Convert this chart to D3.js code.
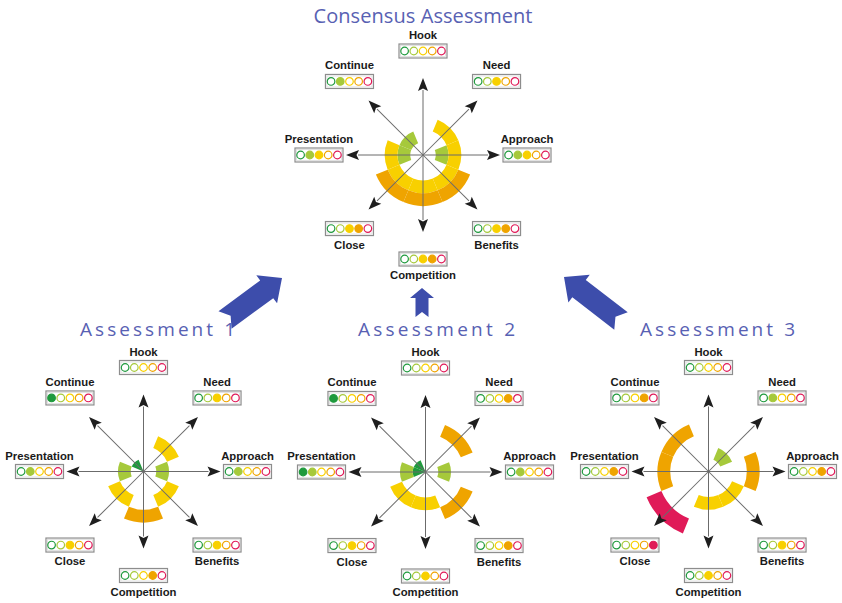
<!DOCTYPE html>
<meta charset="utf-8">
<style>
    body { margin: 0; background: #fff; }
    .axis-line { stroke: #6b6b6b; stroke-width: 1; }
    .axis-head { fill: #1e1e1e; }
    .lbl {
        font-family: "Liberation Sans", Arial, sans-serif;
        font-weight: bold;
        font-size: 11.3px;
        fill: #1a1a1a;
    }
    .title { font-family: "Open Sans", sans-serif; fill: #5861b3; }
</style>
<body>
<div id="chart"></div>
<script src="https://cdn.jsdelivr.net/npm/d3@7"></script>
<script>
    var width = 842,
        height = 603;

    // the eight axes, clockwise from the top
    var axes = ["Hook", "Need", "Approach", "Benefits", "Competition", "Close", "Presentation", "Continue"];
    var levels = [1, 2, 3, 4, 5];
    var levelColors = ["#1f9a3d", "#a6c93b", "#f8d000", "#efa400", "#e01a58"];

    // filled levels per axis (same order as axes)
    var consensusScores = [[], [3], [2, 3], [3, 4], [3, 4], [3, 4], [2, 3], [2]];
    var assessment1Scores = [[], [3], [2], [3], [4], [3], [2], [1]];
    var assessment2Scores = [[], [4], [2], [4], [3], [3], [1, 2], [1]];
    var assessment3Scores = [[], [2], [4], [3], [3], [5], [4], [4]];

    var chartTitles = ["Consensus Assessment", "Assessment 1", "Assessment 2", "Assessment 3"];

    var svg = d3.select("#chart").append("svg")
        .attr("width", width)
        .attr("height", height);

    svg.append("rect").attr("width", width).attr("height", height).attr("fill", "#fff");

    // ring radii, the outer (red) ring is a bit thicker
    var radius = d3.scaleLinear().domain([0, 4, 5]).range([0, 51, 67]);
    var angle = d3.scaleLinear().domain([0, axes.length]).range([0, 2 * Math.PI]);
    var dotX = d3.scalePoint().domain(levels).range([-18.4, 18.4]);
    var color = d3.scaleOrdinal().domain(levels).range(levelColors);

    var armLength = 77,
        headLen = 13,
        headHalf = 5,
        boxDist = 104;

    var arc = d3.arc();

    function drawRadar(cx, cy, scores) {
        var g = svg.append("g").attr("transform", "translate(" + cx + "," + cy + ")");

        // sectors
        var sectors = [];
        scores.forEach(function (list, i) {
            list.forEach(function (s) {
                sectors.push({ axis: i, level: s });
            });
        });
        g.selectAll(".sector")
            .data(sectors)
            .enter().append("path")
            .attr("class", "sector")
            .attr("fill", function (d) { return color(d.level); })
            .attr("d", function (d) {
                return arc({
                    innerRadius: radius(d.level - 1),
                    outerRadius: radius(d.level),
                    startAngle: angle(d.axis) - Math.PI / 8,
                    endAngle: angle(d.axis) + Math.PI / 8
                });
            });

        // axis arrows
        var ax = g.selectAll(".ax")
            .data(axes)
            .enter().append("g")
            .attr("class", "ax")
            .attr("transform", function (d, i) {
                return "rotate(" + (angle(i) * 180 / Math.PI) + ")";
            });
        ax.append("line")
            .attr("class", "axis-line")
            .attr("x1", 0).attr("y1", 0)
            .attr("x2", 0).attr("y2", -(armLength - headLen + 1));
        ax.append("path")
            .attr("class", "axis-head")
            .attr("d", "M0," + (-armLength) + "L" + headHalf + "," + (-armLength + headLen) +
                "L0," + (-armLength + headLen - 2.5) + "L" + (-headHalf) + "," + (-armLength + headLen) + "Z");

        // label boxes
        var lab = g.selectAll(".lab")
            .data(axes)
            .enter().append("g")
            .attr("class", "lab")
            .attr("transform", function (d, i) {
                var a = angle(i);
                return "translate(" + (Math.sin(a) * boxDist) + "," + (-Math.cos(a) * boxDist) + ")";
            });
        lab.append("rect")
            .attr("x", -24).attr("y", -7)
            .attr("width", 48).attr("height", 14)
            .attr("fill", "#fff")
            .attr("stroke", "#8d8d8d")
            .attr("stroke-width", 1.2);
        lab.append("rect")
            .attr("x", -22.5).attr("y", -5.5)
            .attr("width", 45).attr("height", 11)
            .attr("fill", "none")
            .attr("stroke", "#dcdcdc")
            .attr("stroke-width", 0.8);
        lab.each(function (d, i) {
            d3.select(this).selectAll("circle")
                .data(levels)
                .enter().append("circle")
                .attr("cx", function (l) { return dotX(l); })
                .attr("cy", 0)
                .attr("r", 3.8)
                .attr("stroke", function (l) { return color(l); })
                .attr("stroke-width", 1.2)
                .attr("fill", function (l) { return scores[i].indexOf(l) >= 0 ? color(l) : "#fff"; });
        });
        lab.append("text")
            .attr("class", "lbl")
            .attr("text-anchor", "middle")
            .attr("y", function (d, i) {
                return Math.cos(angle(i)) < -0.01 ? 20 : -12;
            })
            .text(function (d) { return d; });
    }

    drawRadar(423, 155, consensusScores);
    drawRadar(143.5, 471.5, assessment1Scores);
    drawRadar(425.5, 472, assessment2Scores);
    drawRadar(708.5, 471.5, assessment3Scores);

    // titles
    var titlePos = [[423, 23, 20, 219], [157.5, 336, 19, 155], [436.5, 336, 19, 157], [717.5, 336, 19, 155]];
    svg.selectAll(".title")
        .data(chartTitles)
        .enter().append("text")
        .attr("class", "title")
        .attr("text-anchor", "middle")
        .attr("x", function (d, i) { return titlePos[i][0]; })
        .attr("y", function (d, i) { return titlePos[i][1]; })
        .attr("font-size", function (d, i) { return titlePos[i][2]; })
        .attr("textLength", function (d, i) { return titlePos[i][3]; })
        .attr("lengthAdjust", "spacing")
        .text(function (d) { return d; });

    // block arrows pointing to the consensus
    function blockArrow(x0, y0, x1, y1, sw, hw, hl, nd) {
        var dx = x1 - x0, dy = y1 - y0, len = Math.sqrt(dx * dx + dy * dy);
        var ux = dx / len, uy = dy / len, nx = -uy, ny = ux;
        var bx = x1 - ux * hl, by = y1 - uy * hl;
        var pts = [
            [x0 + nx * sw, y0 + ny * sw],
            [bx + nx * sw, by + ny * sw],
            [bx + nx * hw, by + ny * hw],
            [x1, y1],
            [bx - nx * hw, by - ny * hw],
            [bx - nx * sw, by - ny * sw],
            [x0 - nx * sw, y0 - ny * sw],
            [x0 + ux * nd, y0 + uy * nd]
        ];
        return "M" + pts.join("L") + "Z";
    }
    var bigArrows = [
        [225, 320, 282, 278, 11, 17.5, 19, 7],
        [422, 317, 422, 288, 6.5, 12, 10, 5],
        [621, 321, 564, 277, 11, 17.5, 19, 7]
    ];
    svg.selectAll(".big")
        .data(bigArrows)
        .enter().append("path")
        .attr("class", "big")
        .attr("fill", "#3d4dab")
        .attr("d", function (d) { return blockArrow.apply(null, d); });
</script>
</body>
